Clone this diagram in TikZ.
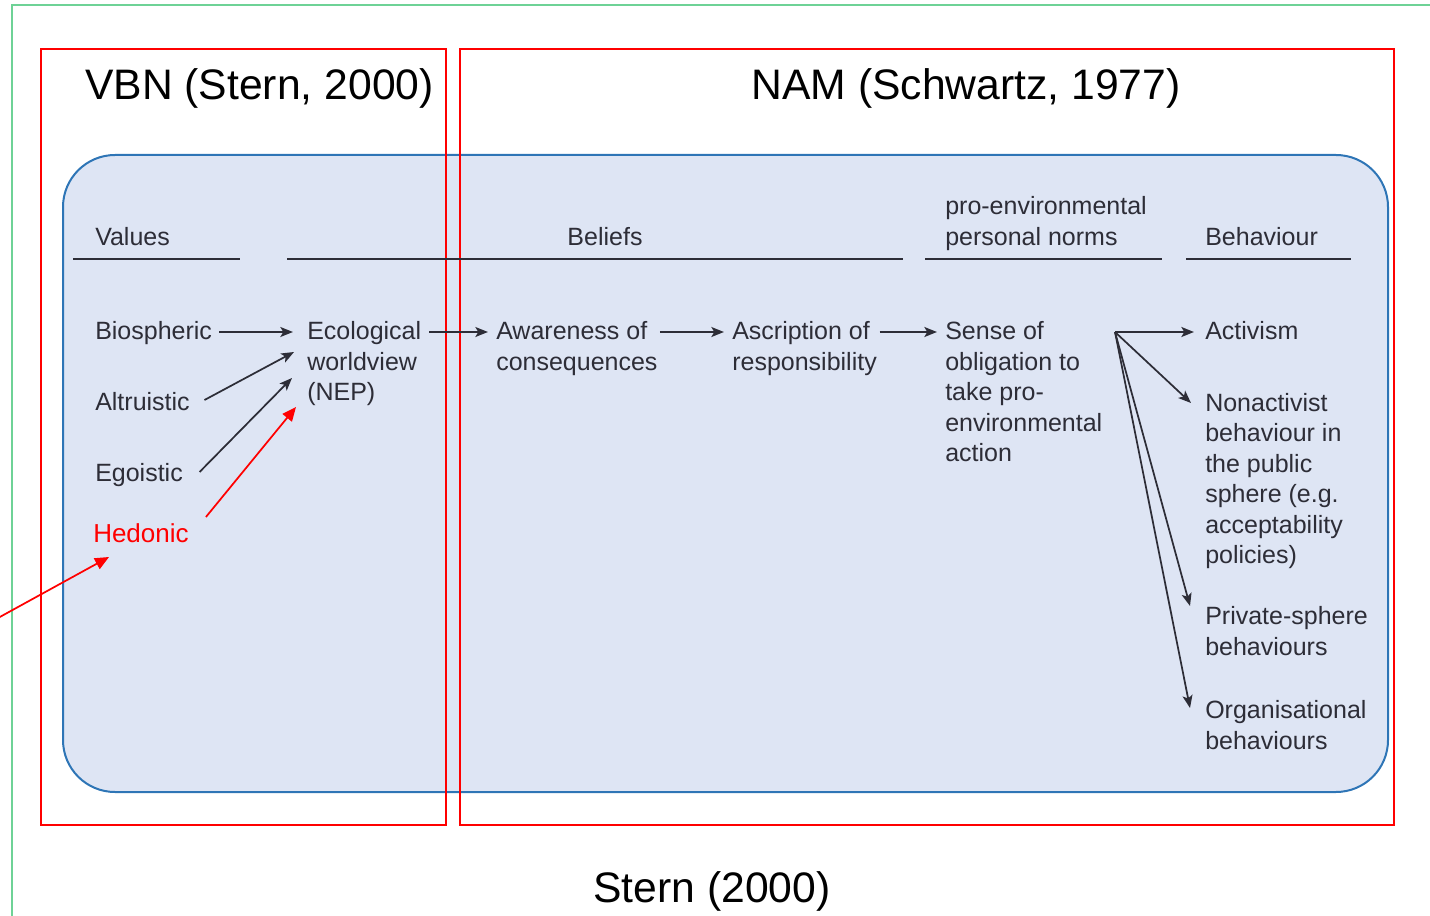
\documentclass[tikz,border=0pt]{standalone}
\usepackage{fontspec}
\setmainfont{Liberation Sans}
\usepackage{xcolor}
\usetikzlibrary{arrows.meta,calc}

\definecolor{boxfill}{RGB}{222,229,244}
\definecolor{boxline}{RGB}{46,117,182}
\definecolor{txtgray}{RGB}{45,45,55}
\definecolor{framegreen}{RGB}{110,210,150}

% lines stacked with the first baseline as node base
\newcommand{\stack}[1]{\begin{tabular}[t]{@{}l@{}}#1\end{tabular}}

\tikzset{
  lbl/.style={anchor=base west, inner sep=0pt, text=txtgray, font=\fontsize{18.75pt}{22.9pt}\selectfont},
  ttl/.style={anchor=base, inner sep=0pt, font=\fontsize{32pt}{38pt}\selectfont},
  arr/.style={draw=txtgray, line width=1.3pt, -{Stealth[length=9.5pt,width=7.5pt,inset=2.2pt]}},
  redarr/.style={draw=red, line width=1.3pt, -{Triangle[length=10.5pt,width=9pt]}},
  headline/.style={draw=txtgray, line width=1.5pt},
}

\begin{document}
\begin{tikzpicture}[x=0.75pt,y=0.75pt,yscale=-1,xscale=1]
\useasboundingbox (0,0) rectangle (1430,916);

%Frame lines
\draw[framegreen, line width=1pt] (12,916) -- (12,5) -- (1430,5);

%Rounded panel
\draw[boxline, fill=boxfill, line width=1.5pt, rounded corners=39pt] (63,155) rectangle (1388,792);

%Red boxes
\draw[red, line width=0.9pt] (41,49) rectangle (446,825);
\draw[red, line width=0.9pt] (460,49) rectangle (1394,825);

% Title Nodes
\node[ttl] (vbn) at (259.5,99.5) {VBN (Stern, 2000)};
\node[ttl] (nam) at (966,99.5) {NAM (Schwartz, 1977)};
\node[ttl] (src) at (712,902) {Stern (2000)};

% Header Nodes
\node[lbl] (val) at (95,245) {Values};
\node[lbl, anchor=base] (bel) at (605,245) {Beliefs};
\node[lbl] (norm) at (945,214.5) {\stack{pro-environmental\\personal norms}};
\node[lbl] (beh) at (1205,245) {Behaviour};

%Header lines
\draw[headline] (73,259) -- (240,259);
\draw[headline] (287,259) -- (903,259);
\draw[headline] (925,259) -- (1162,259);
\draw[headline] (1186,259) -- (1351,259);

% Value Nodes
\node[lbl] (bio) at (95,339.5) {Biospheric};
\node[lbl] (alt) at (95,410) {Altruistic};
\node[lbl] (ego) at (95,481.5) {Egoistic};
\node[lbl, text=red, font=\fontsize{19.5pt}{23pt}\selectfont] (hed) at (93,542.5) {Hedonic};

% Belief Nodes
\node[lbl] (eco) at (307,339.5) {\stack{Ecological\\worldview\\(NEP)}};
\node[lbl] (awa) at (496,339.5) {\stack{Awareness of\\consequences}};
\node[lbl] (asc) at (732,339.5) {\stack{Ascription of\\responsibility}};
\node[lbl] (sense) at (945,339.5) {\stack{Sense of\\obligation to\\take pro-\\environmental\\action}};

% Behaviour Nodes
\node[lbl] (act) at (1205,339.5) {Activism};
\node[lbl] (non) at (1205,411) {\stack{Nonactivist\\behaviour in\\the public\\sphere (e.g.\\acceptability\\policies)}};
\node[lbl] (priv) at (1205,624.5) {\stack{Private-sphere\\behaviours}};
\node[lbl] (org) at (1205,718.5) {\stack{Organisational\\behaviours}};

%Arrows into worldview
\draw[arr] ($(bio.base east)+(7,-7.5)$) -- ($(eco.base west)+(-14,-7.5)$);
\draw[arr] ($(alt.base east)+(14.5,-10)$) -- ($(eco.base west)+(-13,12.5)$);
\draw[arr] ($(ego.base east)+(16.5,-9.5)$) -- ($(eco.base west)+(-15,38.5)$);
\draw[redarr] ($(hed.base east)+(17,-25.5)$) -- ($(eco.base west)+(-11,67.5)$);

%Arrow from outside
\coordinate (hedsrc) at (-2,618);
\draw[redarr] (hedsrc) -- ($(hed.base west)+(16,14.5)$);

%Belief chain
\draw[arr] ($(eco.base east)+(8,-7.5)$) -- ($(awa.base west)+(-8,-7.5)$);
\draw[arr] ($(awa.base east)+(2,-7.5)$) -- ($(asc.base west)+(-8,-7.5)$);
\draw[arr] ($(asc.base east)+(2.5,-7.5)$) -- ($(sense.base west)+(-8,-7.5)$);

%Fan to behaviours
\coordinate (fan) at ($(sense.base west)+(170,-7.5)$);
\draw[arr] (fan) -- ($(act.base west)+(-11,-7.5)$);
\draw[arr] (fan) -- ($(non.base west)+(-14,-8)$);
\draw[arr] (fan) -- ($(priv.base west)+(-15,-18.5)$);
\draw[arr] (fan) -- ($(org.base west)+(-15,-10.5)$);

\end{tikzpicture}
\end{document}
